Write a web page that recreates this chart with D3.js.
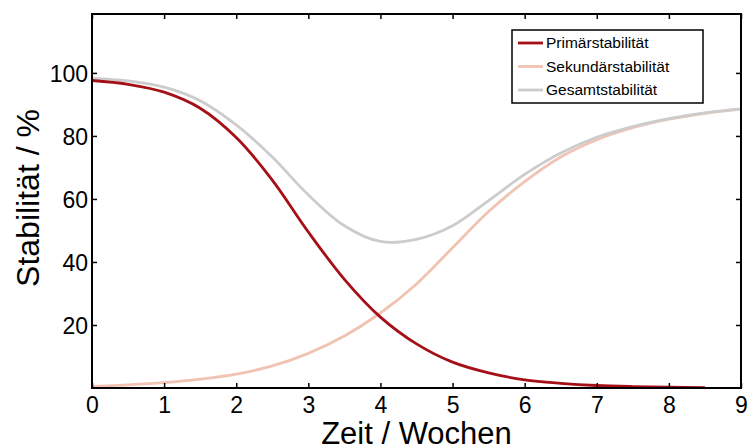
<!doctype html>
<html>
<head>
<meta charset="UTF-8">
<title>Stabilität</title>
<script src="https://cdn.jsdelivr.net/npm/d3@7"></script>
<style>
  body { margin: 0; background: #fff; }
  text { font-family: "Liberation Sans", Arial, sans-serif; fill: #000; }
</style>
</head>
<body>
<svg id="chart" width="749" height="444"></svg>
<script>
// Zeitpunkte in Wochen
var weeks = [0, 0.5, 1, 1.5, 2, 2.5, 3, 3.5, 4, 4.5, 5, 5.5, 6, 6.5, 7, 7.5, 8, 8.5, 9];
// Werte in %
var primaer   = [97.6, 96.4, 93.9, 88.8, 79.5, 66.0, 49.5, 34.5, 22.5, 14.0, 8.2, 4.8, 2.6, 1.5, 0.8, 0.45, 0.25, 0.15];
var sekundaer = [0.5, 1.0, 1.7, 2.8, 4.4, 7.0, 11.0, 16.5, 23.8, 33.0, 44.5, 56.0, 65.5, 73.3, 78.8, 82.6, 85.3, 87.2, 88.5];
var gesamt    = [98.3, 97.5, 95.5, 91.2, 83.5, 73.3, 61.3, 51.5, 46.5, 47.2, 51.5, 59.5, 67.8, 74.6, 79.6, 83.0, 85.5, 87.35, 88.6];
var seriesNames = ["Primärstabilität", "Sekundärstabilität", "Gesamtstabilität"];
var colors = ["#a50f15", "#f0c3b2", "#cccccc"];
var xTicks = [0, 1, 2, 3, 4, 5, 6, 7, 8, 9];
var yTicks = [20, 40, 60, 80, 100];

var svg = d3.select("#chart");
var m = {left: 92, right: 741, top: 14, bottom: 388};

var x = d3.scaleLinear().domain([0, 9]).range([m.left, m.right]);
var y = d3.scaleLinear().domain([0, 118.7]).range([m.bottom, m.top]);

var allSeries = [primaer, sekundaer, gesamt];

var line = d3.line()
    .x(function(d){ return x(d[0]); })
    .y(function(d){ return y(d[1]); })
    .curve(d3.curveCatmullRom.alpha(0.5));

var plot = svg.append("g");
var order = [1, 2, 0];
order.forEach(function(k){
    var pts = allSeries[k].map(function(v, i){ return [weeks[i], v]; });
    plot.append("path")
        .attr("d", line(pts))
        .attr("fill", "none")
        .attr("stroke", colors[k])
        .attr("stroke-width", 2.8);
});

// Achsen (Ticks nach innen, Rahmen)
var tickFont = "23px";
var xb = svg.append("g").attr("transform", "translate(0," + m.bottom + ")")
    .call(d3.axisBottom(x).tickValues(xTicks).tickSizeInner(-5).tickSizeOuter(0));
var xt = svg.append("g").attr("transform", "translate(0," + m.top + ")")
    .call(d3.axisTop(x).tickValues(xTicks).tickSizeInner(-5).tickSizeOuter(0).tickFormat(""));
var yl = svg.append("g").attr("transform", "translate(" + m.left + ",0)")
    .call(d3.axisLeft(y).tickValues(yTicks).tickSizeInner(-5).tickSizeOuter(0));
var yr = svg.append("g").attr("transform", "translate(" + m.right + ",0)")
    .call(d3.axisRight(y).tickValues(yTicks).tickSizeInner(-5).tickSizeOuter(0).tickFormat(""));

[xb, xt, yl, yr].forEach(function(g){
    g.select(".domain").remove();
    g.selectAll(".tick line").attr("stroke", "#000").attr("stroke-width", 1.5);
    g.selectAll(".tick text").style("font-size", tickFont).attr("fill", "#000")
        .style("font-family", "Liberation Sans, Arial, sans-serif");
});
xb.selectAll(".tick text").attr("dy", null).attr("y", 25);
yl.selectAll(".tick text").attr("x", -4).attr("dy", "0.36em");

svg.append("rect")
    .attr("x", m.left).attr("y", m.top)
    .attr("width", m.right - m.left).attr("height", m.bottom - m.top)
    .attr("fill", "none").attr("stroke", "#000").attr("stroke-width", 2);

// Achsentitel
svg.append("text")
    .attr("x", (m.left + m.right) / 2).attr("y", 444)
    .attr("text-anchor", "middle")
    .style("font-size", "31px")
    .text("Zeit / Wochen");

svg.append("text")
    .attr("transform", "translate(39,198) rotate(-90)")
    .attr("text-anchor", "middle")
    .style("font-size", "32px")
    .text("Stabilität / %");

// Legende
var lg = svg.append("g");
lg.append("rect")
    .attr("x", 512).attr("y", 30).attr("width", 191).attr("height", 73)
    .attr("fill", "#fff").attr("stroke", "#000").attr("stroke-width", 1.5);
seriesNames.forEach(function(name, i){
    var yy = 43 + i * 23.5;
    lg.append("line")
        .attr("x1", 518).attr("x2", 543).attr("y1", yy).attr("y2", yy)
        .attr("stroke", colors[i]).attr("stroke-width", 2.8);
    lg.append("text")
        .attr("x", 546).attr("y", yy).attr("dy", "0.35em")
        .style("font-size", "15.5px")
        .text(name);
});
</script>
</body>
</html>
